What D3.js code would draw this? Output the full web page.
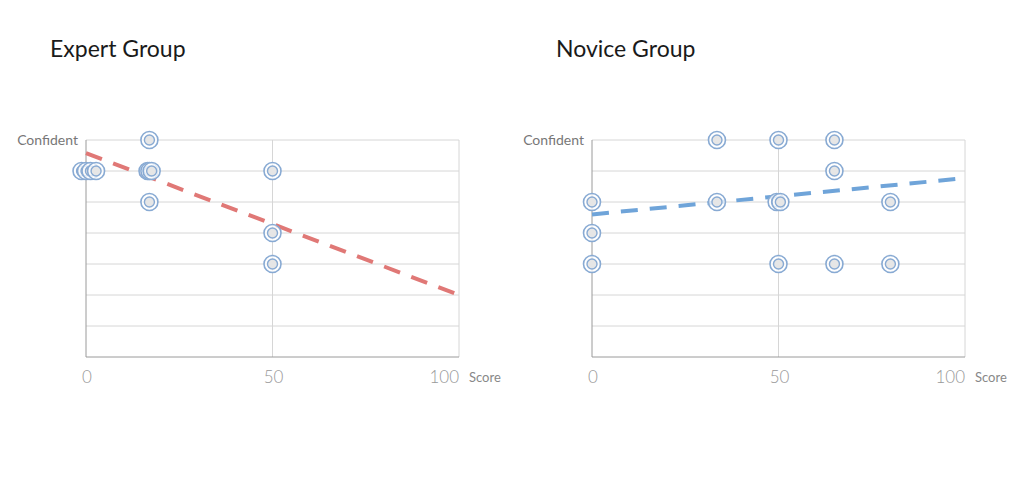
<!DOCTYPE html>
<html>
<head>
<meta charset="utf-8">
<script src="https://cdn.jsdelivr.net/npm/d3@7"></script>
<style>
  body { margin: 0; background: #fff; }
  svg { font-family: "Lato", "DejaVu Sans", sans-serif; }
</style>
</head>
<body>
<svg id="chart" width="1017" height="488"></svg>
<script>
// confidence levels: 0 (bottom) .. 7 ("Confident")
const yLevels = [0, 1, 2, 3, 4, 5, 6, 7];
const xTicks = [0, 50, 100];
const panelTitles = ["Expert Group", "Novice Group"];

const expertScore = [-1.2, 0, 1.2, 2.7, 17, 16.5, 17, 17.6, 17, 50, 50, 50];
const expertConf  = [6, 6, 6, 6, 7, 6, 6, 6, 5, 6, 4, 3];
const expertTrend = [[0, 6.58], [100, 2.0]];

const noviceScore = [0, 0, 0, 33.5, 33.5, 50, 49.5, 50.5, 50, 65, 65, 65, 80, 80];
const noviceConf  = [5, 4, 3, 7, 5, 7, 5, 5, 3, 7, 6, 3, 5, 3];
const noviceTrend = [[0, 4.6], [100, 5.77]];

let svg = d3.select('#chart');

let drawPanel = (left, title, scores, conf, trend, trendColor) => {
  let x = d3.scaleLinear().domain([0, 100]).range([left, left + 373]);
  let y = d3.scaleLinear().domain([0, 7]).range([357, 140]);
  let g = svg.append("g");

  g.append("text")
    .attr("x", left - 36)
    .attr("y", 57)
    .attr("font-size", 23)
    .attr("fill", "#1a1a1a")
    .text(title);

  // horizontal grid
  g.append("g")
    .selectAll("line")
    .data(yLevels.slice(1))
    .join("line")
      .attr("x1", x(0))
      .attr("x2", x(100))
      .attr("y1", d => y(d))
      .attr("y2", d => y(d))
      .attr("stroke", "#d6d6d6")
      .attr("stroke-width", 1);

  // vertical grid
  g.append("g")
    .selectAll("line")
    .data(xTicks.slice(1))
    .join("line")
      .attr("x1", d => x(d))
      .attr("x2", d => x(d))
      .attr("y1", y(7))
      .attr("y2", y(0))
      .attr("stroke", "#d6d6d6")
      .attr("stroke-width", 1);

  // axes
  g.append("line")
    .attr("x1", x(0)).attr("x2", x(0))
    .attr("y1", y(7)).attr("y2", y(0))
    .attr("stroke", "#9a9a9a");
  g.append("line")
    .attr("x1", x(0)).attr("x2", x(100))
    .attr("y1", y(0)).attr("y2", y(0))
    .attr("stroke", "#9a9a9a");

  g.append("text")
    .attr("x", x(0) - 8)
    .attr("y", y(7) + 5)
    .attr("text-anchor", "end")
    .attr("font-size", 14)
    .attr("fill", "#777")
    .text("Confident");

  g.append("g")
    .selectAll("text")
    .data(xTicks)
    .join("text")
      .attr("x", d => d === 100 ? x(d) : x(d) + 1)
      .attr("y", 383)
      .attr("text-anchor", d => d === 100 ? "end" : "middle")
      .attr("font-size", 17)
      .attr("font-weight", 300)
      .attr("fill", "#999")
      .text(d => d);

  g.append("text")
    .attr("x", x(100) + 10)
    .attr("y", 382)
    .attr("font-size", 13)
    .attr("fill", "#888")
    .text("Score");

  // trend line
  let line = d3.line()
    .x(d => x(d[0]))
    .y(d => y(d[1]));
  g.append("path")
    .datum(trend)
    .attr("fill", "none")
    .attr("stroke", trendColor)
    .attr("stroke-width", 4)
    .attr("stroke-dasharray", "17,12")
    .attr("d", line);

  // markers
  let pts = scores.map((s, i) => ({s: s, c: conf[i]}));
  let mk = g.append("g")
    .selectAll("g")
    .data(pts)
    .join("g")
      .attr("transform", d => `translate(${x(d.s)},${y(d.c)})`);
  mk.append("circle")
    .attr("r", 8.5)
    .attr("fill", "rgba(255,255,255,0.75)")
    .attr("stroke", "#88aad3")
    .attr("stroke-width", 1.6);
  mk.append("circle")
    .attr("r", 5)
    .attr("fill", "#e6e6e6")
    .attr("stroke", "#88aad3")
    .attr("stroke-width", 1.4);
};

drawPanel(86, panelTitles[0], expertScore, expertConf, expertTrend, "#e07876");
drawPanel(592, panelTitles[1], noviceScore, noviceConf, noviceTrend, "#6fa4d9");
</script>
</body>
</html>
